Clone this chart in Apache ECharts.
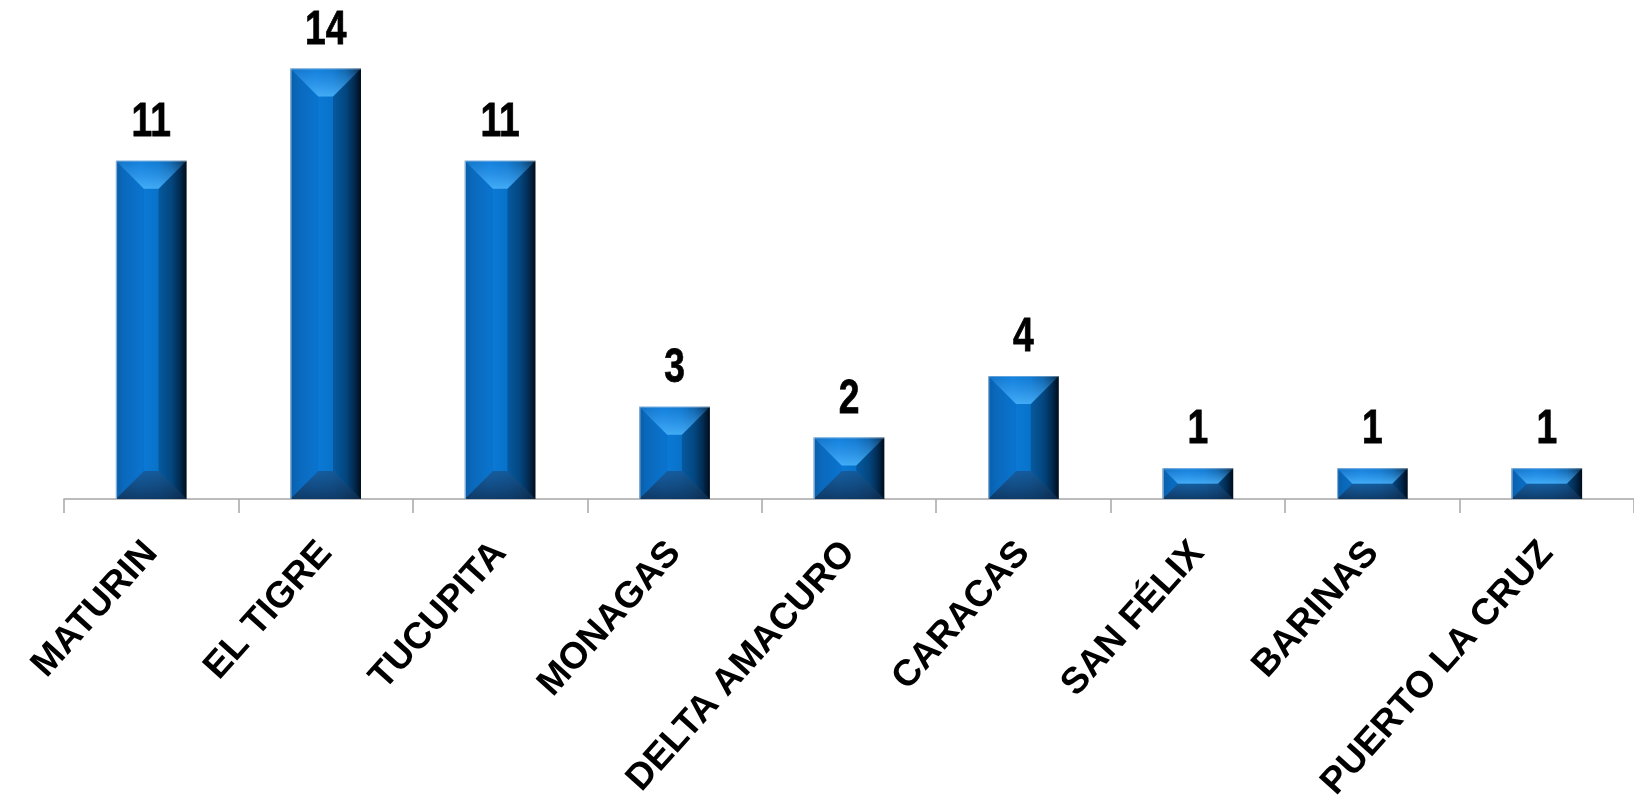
<!DOCTYPE html>
<html>
<head>
<meta charset="utf-8">
<title>Ciudades</title>
<script src="https://cdn.jsdelivr.net/npm/echarts@6/dist/echarts.min.js"></script>
<style>
  html, body { margin: 0; padding: 0; background: #ffffff; }
  #chart { width: 1634px; height: 804px; }
</style>
</head>
<body>
<div id="chart"></div>
<script>
// Cities and counts
const categories = ['MATURIN', 'EL TIGRE', 'TUCUPITA', 'MONAGAS', 'DELTA AMACURO', 'CARACAS', 'SAN FÉLIX', 'BARINAS', 'PUERTO LA CRUZ'];
const counts = [11, 14, 11, 3, 2, 4, 1, 1, 1];

const chart = echarts.init(document.getElementById('chart'), null, { renderer: 'canvas' });

// Horizontal shading of the column body (lit from the left)
function bodyFill() {
  return new echarts.graphic.LinearGradient(0, 0, 1, 0, [
    { offset: 0.00, color: '#0a64b2' },
    { offset: 0.10, color: '#0b6fc4' },
    { offset: 0.35, color: '#0b7bd8' },
    { offset: 0.60, color: '#0872c9' },
    { offset: 0.78, color: '#055a9f' },
    { offset: 0.90, color: '#033866' },
    { offset: 1.00, color: '#000f1e' }
  ]);
}

// Bevelled column drawn from the category/value scales
function renderBevelBar(params, api) {
  const idx = api.value(0);
  const val = api.value(1);
  const top = api.coord([idx, val]);
  const base = api.coord([idx, 0]);
  const band = api.size([1, 0])[0];
  const w = band * 0.405;
  const x = top[0] - w / 2;
  const y = top[1];
  const h = base[1] - top[1];
  const b = Math.min(28, h / 2, w / 2);

  const topPts = [[x, y], [x + w, y], [x + w - b, y + b], [x + b, y + b]];
  const botPts = [[x, y + h], [x + w, y + h], [x + w - b, y + h - b], [x + b, y + h - b]];
  const leftPts = [[x, y], [x + b, y + b], [x + b, y + h - b], [x, y + h]];
  const rightPts = [[x + w, y], [x + w - b, y + b], [x + w - b, y + h - b], [x + w, y + h]];

  const topGlow = new echarts.graphic.LinearGradient(0, 0, 0, 1, [
    { offset: 0, color: 'rgba(70,165,250,0.15)' },
    { offset: 1, color: 'rgba(80,185,255,0.80)' }
  ]);
  const bottomShade = new echarts.graphic.LinearGradient(0, 0, 0, 1, [
    { offset: 0, color: 'rgba(30,70,115,0.55)' },
    { offset: 1, color: 'rgba(15,45,80,0.80)' }
  ]);

  return {
    type: 'group',
    children: [
      { type: 'rect', shape: { x: x, y: y, width: w, height: h }, style: { fill: bodyFill() } },
      { type: 'polygon', shape: { points: leftPts }, style: { fill: 'rgba(0,30,80,0.08)' } },
      { type: 'polygon', shape: { points: rightPts }, style: { fill: 'rgba(0,5,20,0.22)' } },
      { type: 'polygon', shape: { points: topPts }, style: { fill: topGlow } },
      { type: 'polygon', shape: { points: botPts }, style: { fill: bottomShade } },
      { type: 'rect', shape: { x: x, y: y, width: 1.2, height: h }, style: { fill: 'rgba(175,200,225,0.75)' } },
      { type: 'rect', shape: { x: x, y: y, width: w, height: 1 }, style: { fill: 'rgba(175,200,225,0.5)' } },
      {
        type: 'text',
        x: top[0],
        y: y - 14,
        scaleX: 0.76,
        style: {
          text: String(val),
          fontFamily: '"Liberation Sans", Arial, sans-serif',
          fontWeight: 'bold',
          fontSize: 49,
          fill: '#000000',
          stroke: '#000000',
          lineWidth: 0.8,
          align: 'center',
          verticalAlign: 'bottom'
        }
      }
    ]
  };
}

chart.setOption({
  backgroundColor: '#ffffff',
  animation: false,
  grid: { left: 64, right: -12, top: 7, bottom: 304, containLabel: false },
  xAxis: {
    type: 'category',
    data: categories,
    boundaryGap: true,
    axisLine: { show: true, lineStyle: { color: '#a6a6a6', width: 1.5 } },
    axisTick: { show: true, length: 14, lineStyle: { color: '#a6a6a6', width: 1.5 } },
    axisLabel: {
      rotate: 48,
      interval: 0,
      margin: 48,
      color: '#000000',
      fontFamily: '"Liberation Sans", Arial, sans-serif',
      fontWeight: 'bold',
      fontSize: 37
    }
  },
  yAxis: {
    type: 'value',
    min: 0,
    max: 16,
    show: false,
    splitLine: { show: false }
  },
  series: [{
    type: 'custom',
    renderItem: renderBevelBar,
    data: counts.map((v, i) => [i, v]),
    encode: { x: 0, y: 1 },
    clip: false
  }]
});
</script>
</body>
</html>
